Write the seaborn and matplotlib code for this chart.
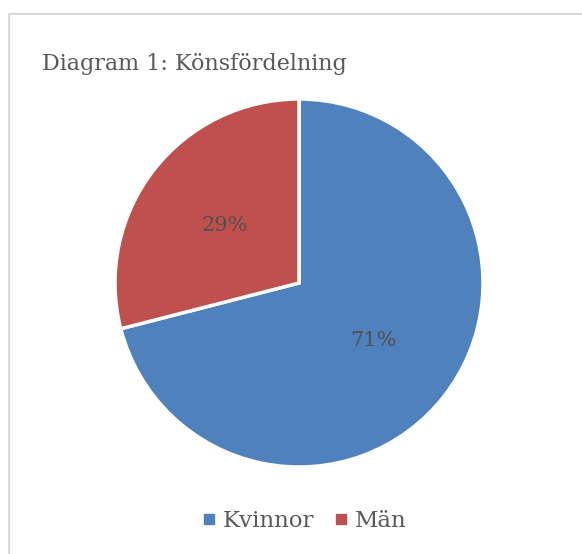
import matplotlib
matplotlib.use("Agg")
import matplotlib.pyplot as plt
import seaborn as sns
from matplotlib.patches import Rectangle
from matplotlib.lines import Line2D

categories = ["Kvinnor", "Män"]
values = [71, 29]
colors = ["#4F81BD", "#C0504D"]
title = "Diagram 1: Könsfördelning"

sns.set_theme(style="white")
plt.rcParams["font.family"] = ["DejaVu Serif"]
text_color = "#595959"

fig = plt.figure(figsize=(5.82, 5.54), dpi=100)
fig.patch.set_facecolor("white")

# frame
fig.patches.append(Rectangle((8.5 / 582, -0.05), 1.2, (554 - 13.5) / 554 + 0.05,
                             transform=fig.transFigure, fill=False,
                             edgecolor="#D9D9D9", linewidth=1.5))

ax = fig.add_axes([115 / 582, 87 / 554, 368 / 582, 368 / 554])
wedges, texts, autotexts = ax.pie(
    values, colors=colors, startangle=90, counterclock=False,
    autopct=lambda p: f"{p:.0f}%", pctdistance=0.51,
    wedgeprops=dict(edgecolor="white", linewidth=2.5),
    textprops=dict(color="#505050", fontsize=15))
ax.set_xlim(-1.0, 1.0)
ax.set_ylim(-1.0, 1.0)
ax.set_aspect("equal")
ax.axis("off")

fig.text(42 / 582, 1 - 64 / 554, title, fontsize=16, color=text_color,
         va="center", ha="left")

handles = [Line2D([0], [0], marker="s", linestyle="", markersize=7,
                  markerfacecolor=c, markeredgecolor=c) for c in colors]
fig.legend(handles, categories, loc="center", bbox_to_anchor=(303 / 582, 1 - 521 / 554),
           ncol=2, frameon=False, fontsize=16.5, labelcolor=text_color,
           handletextpad=0.2, columnspacing=0.8, handlelength=0.8)

fig.savefig("out.png", dpi=100)
